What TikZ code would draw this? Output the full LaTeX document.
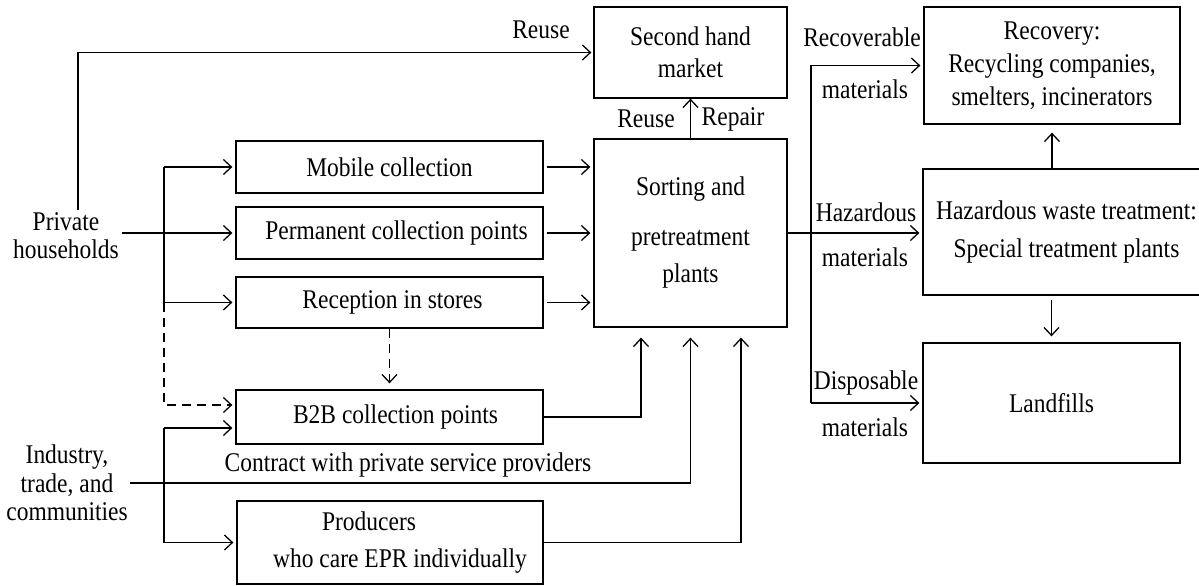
\documentclass[tikz,border=0pt]{standalone}
\usepackage{fontspec}
\setmainfont{Liberation Serif}[FakeStretch=0.87]
\usetikzlibrary{arrows.meta,calc}
\newcommand{\fs}[1]{\fontsize{27}{#1}\selectfont}
\begin{document}
\begin{tikzpicture}[x=1pt,y=-1pt,line width=1.3pt,
  every node/.style={font=\fs{30}},
  box/.style={draw, line width=1.3pt, inner sep=0pt, align=center},
  arr/.style={-{Straight Barb[length=8pt,width=15pt,line width=1.3pt]}},
  dsh/.style={dash pattern=on 9pt off 6pt},
  lbl/.style={inner sep=0pt, align=center}]
\useasboundingbox (0,0) rectangle (1199,586);
\clip (0,0) rectangle (1199,586);
% boxes
\node[box, minimum width=193pt, minimum height=91pt, font=\fs{32}] (shm) at (690.5,52.5) {Second hand\\market};
\node[box, minimum width=193pt, minimum height=188pt, font=\fs{37}] (sort) at (690.5,233) {Sorting and\\[13pt]pretreatment\\plants};
\node[box, minimum width=307pt, minimum height=52pt] (mob) at (389.5,167) {Mobile collection};
\node[box, minimum width=307pt, minimum height=52pt] (perm) at (389.5,233) {\hspace*{14pt}Permanent collection points};
\node[box, minimum width=307pt, minimum height=51pt] (rec) at (389.5,302.5) {\hspace*{6pt}Reception in stores};
\node[box, minimum width=307pt, minimum height=54pt] (b2b) at (389.5,417) {\hspace*{12pt}B2B collection points};
\node[box, minimum width=306pt, minimum height=83pt, font=\fs{37}] (prod) at (390,542.5) {\hspace*{-42pt}Producers\\\hspace*{20pt}who care EPR individually};
\node[box, minimum width=256pt, minimum height=117pt, font=\fs{33}] (recov) at (1052,65.5) {Recovery:\\Recycling companies,\\smelters, incinerators};
\node[box, minimum width=287pt, minimum height=126pt, font=\fs{38}] (haz) at (1066.5,232) {Hazardous waste treatment:\\Special treatment plants};
\node[box, minimum width=257pt, minimum height=120pt] (land) at (1051.5,403) {Landfills};
% sources
\node[lbl, inner sep=2pt, font=\fs{28}] (ph) at (66,236) {Private\\households};
\node[lbl, inner sep=2pt, font=\fs{28.5}] (ind) at (67,483) {Industry,\\trade, and\\communities};
% labels
\node[lbl] (lreuse) at (541,30) {Reuse};
\node[lbl] (lreuse2) at (646,119) {Reuse};
\node[lbl] (lrepair) at (733,119) {Repair};
\node[lbl] (lcontract) at (408,465) {Contract with private service providers};
\node[lbl] (lrec1) at (862,37) {Recoverable};
\node[lbl] (lrec2) at (865,89) {materials};
\node[lbl] (lhaz1) at (866,212) {Hazardous};
\node[lbl] (lhaz2) at (865,257) {materials};
\node[lbl] (ldis1) at (866,383) {Disposable};
\node[lbl] (ldis2) at (865,427) {materials};
% coordinates
\coordinate (vx1) at (78,0);
\coordinate (bx) at (164,0);
\coordinate (vx2) at (811,0);
\coordinate (b2bu) at ($(b2b.west)+(0,-12)$);
\coordinate (b2bl) at ($(b2b.west)+(0,11)$);
% connectors left
\draw[arr, shorten >=2pt] (ph.north -| vx1) |- (shm.west);
\draw[arr, shorten >=3pt] (ph.east |- perm.west) -- (perm.west);
\draw[arr, shorten >=3pt] (bx |- mob.west) -- (mob.west);
\draw (bx |- mob.west) -- (bx |- rec.west);
\draw[arr, shorten >=3pt] (bx |- rec.west) -- (rec.west);
\draw[arr, dsh, shorten >=3pt] (bx |- rec.west) -- (bx |- b2bu) -- (b2bu);
\draw[arr, shorten >=3pt] (bx |- b2bl) -- (b2bl);
\draw[arr, shorten >=3pt] (bx |- b2bl) |- (prod.west);
\draw[arr, dsh, shorten >=6pt] (rec.south) -- (b2b.north);
\draw[arr, shorten >=10pt] (ind.east) -| (sort.south);
\draw[arr, shorten >=10pt] (b2b.east) -| ($(sort.south)+(-49.5,0)$);
\draw[arr, shorten >=10pt] (prod.east) -| ($(sort.south)+(50.5,0)$);
\foreach \n in {mob,perm,rec}
  \draw[arr, shorten <=3pt, shorten >=3pt] (\n.east) -- (\n.east -| sort.west);
\draw[arr] (sort.north) -- (shm.south);
% connectors right
\draw[arr, shorten >=3pt] (sort.east) -- (sort.east -| haz.west);
\draw[arr, shorten >=3pt] (vx2 |- land.west) |- (recov.west);
\draw[arr, shorten >=3pt] (vx2 |- land.west) -- (land.west);
\draw[arr, shorten >=8pt] (recov.south |- haz.north) -- (recov.south);
\draw[arr, shorten <=4pt, shorten >=6pt] (land.north |- haz.south) -- (land.north);
\end{tikzpicture}
\end{document}
